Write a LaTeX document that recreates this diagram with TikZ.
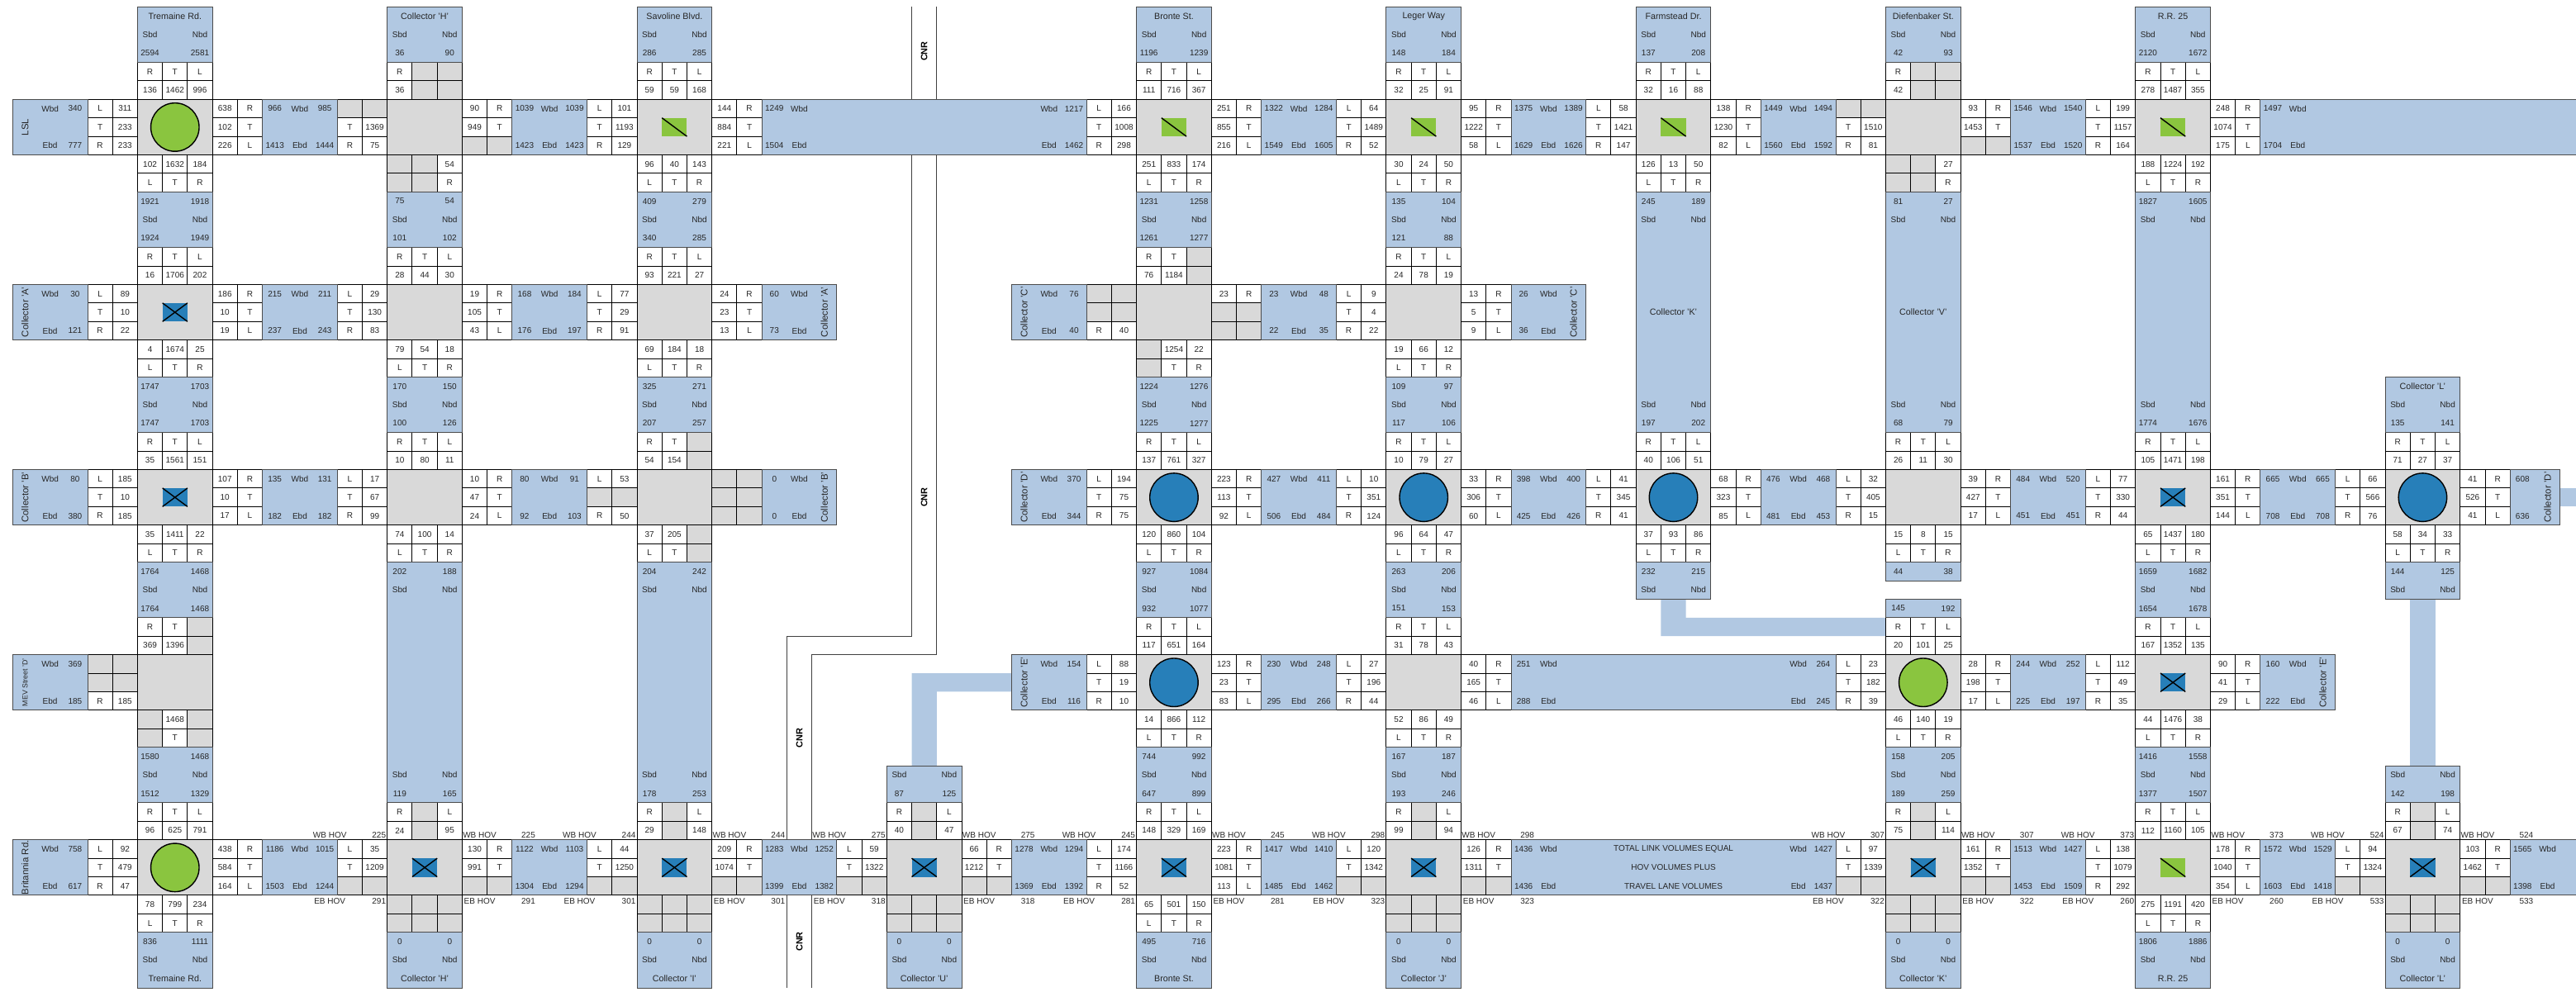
\documentclass[tikz,border=0pt]{standalone}
\usepackage{fontspec}
\usepackage{xcolor}
\usepackage{tikz}
\setmainfont{Liberation Sans}

\definecolor{linkblue}{HTML}{B1C8E2}
\definecolor{gridgrey}{HTML}{D9D9D9}
\definecolor{signalgreen}{HTML}{8AC53F}
\definecolor{signalblue}{HTML}{277FB9}

\newcommand{\cellfont}{\fontsize{5.7}{6}\selectfont}
\newcommand{\titlefont}{\fontsize{6.1}{7}\selectfont}

\tikzset{
    gridcell/.style={draw=black, line width=0.55pt, minimum width=0.6046cm, minimum height=0.4482cm,
        inner sep=0pt, outer sep=0pt, font=\cellfont, text=black!85},
    whitecell/.style={gridcell, fill=white},
    greycell/.style={gridcell, fill=gridgrey},
    volume/.style={inner sep=0pt, font=\cellfont, text=black!85},
    roadname/.style={inner sep=0pt, font=\titlefont, text=black!85},
    sidename/.style={inner sep=0pt, rotate=90, font=\fontsize{6.5}{7}\selectfont, text=black!85},
    blockfill/.style={fill=linkblue, draw=black!70, line width=0.55pt},
    railline/.style={draw=black!75, line width=0.6pt},
    railname/.style={inner sep=0pt, rotate=90, font=\fontsize{6.2}{7}\selectfont\bfseries},
    signalpen/.style={draw=black, line width=0.8pt}
}

\def\nocell{-}

% Một ô: nhãn và giá trị, "-" là ô xám
\newcommand{\tcell}[4]{%
    \pgfmathtruncatemacro\cellcol{#1}%
    \pgfmathtruncatemacro\cellrow{#2}%
    \edef\celltext{#4}%
    \ifx\celltext\nocell
        \node[greycell] (c\cellcol-\cellrow) at (#1+.5,#2+.5) {};
    \else
        \node[whitecell] (c\cellcol-\cellrow) at (#1+.5,#2+.5) {#3};
    \fi}

% Chữ trên nền xanh, đặt giữa một ô lưới
\newcommand{\tx}[3]{%
    \pgfmathtruncatemacro\cellcol{#1}%
    \pgfmathtruncatemacro\cellrow{#2}%
    \node[volume] (t\cellcol-\cellrow) at (#1+.5,#2+.5) {#3};}

% Bốn nhánh của nút giao
\newcommand{\apN}[5]{%
    \tcell{#1}{#2-2}{R}{#3}\tcell{#1+1}{#2-2}{T}{#4}\tcell{#1+2}{#2-2}{L}{#5}%
    \tcell{#1}{#2-1}{#3}{#3}\tcell{#1+1}{#2-1}{#4}{#4}\tcell{#1+2}{#2-1}{#5}{#5}}
\newcommand{\apS}[5]{%
    \tcell{#1}{#2+3}{#3}{#3}\tcell{#1+1}{#2+3}{#4}{#4}\tcell{#1+2}{#2+3}{#5}{#5}%
    \tcell{#1}{#2+4}{L}{#3}\tcell{#1+1}{#2+4}{T}{#4}\tcell{#1+2}{#2+4}{R}{#5}}
\newcommand{\apW}[5]{%
    \tcell{#1-2}{#2}{L}{#3}\tcell{#1-2}{#2+1}{T}{#4}\tcell{#1-2}{#2+2}{R}{#5}%
    \tcell{#1-1}{#2}{#3}{#3}\tcell{#1-1}{#2+1}{#4}{#4}\tcell{#1-1}{#2+2}{#5}{#5}}
\newcommand{\apE}[5]{%
    \tcell{#1+3}{#2}{#3}{#3}\tcell{#1+3}{#2+1}{#4}{#4}\tcell{#1+3}{#2+2}{#5}{#5}%
    \tcell{#1+4}{#2}{R}{#3}\tcell{#1+4}{#2+1}{T}{#4}\tcell{#1+4}{#2+2}{L}{#5}}

% Nút giao: 0 trống, 1 tròn xanh lá, 2 tròn xanh dương, 3 vuông chữ X, 4 vuông gạch chéo
\newcommand{\xsec}[3]{%
    \draw[fill=gridgrey, line width=0.55pt] (#1,#2) rectangle ++(3,3);
    \ifcase#3
    \or \draw[signalpen, fill=signalgreen] (#1+1.5,#2+1.5) circle[radius=0.585cm];
    \or \draw[signalpen, fill=signalblue] (#1+1.5,#2+1.5) circle[radius=0.585cm];
    \or \fill[signalblue] (#1+1,#2+1) rectangle ++(1,1);
        \draw[signalpen] (#1+1,#2+1) -- ++(1,1);
        \draw[signalpen] (#1+2,#2+1) -- ++(-1,1);
    \or \fill[signalgreen] (#1+1,#2+1) rectangle ++(1,1);
        \draw[signalpen] (#1+1,#2+1) -- ++(1,1);
    \fi}

% Các đoạn nối ngang
\newcommand{\linkH}[6]{%
    \draw[blockfill] (#1,#2) rectangle ++(3,3);
    \tx{#1}{#2}{#3}\tx{#1+1}{#2}{Wbd}\tx{#1+2}{#2}{#4}%
    \tx{#1}{#2+2}{#5}\tx{#1+1}{#2+2}{Ebd}\tx{#1+2}{#2+2}{#6}}
\newcommand{\linkHwide}[7]{%
    \draw[blockfill] (#1,#3) rectangle (#2,#3+3);
    \tx{#1}{#3}{#4}\tx{#1+1}{#3}{Wbd}\tx{#2-2}{#3}{Wbd}\tx{#2-1}{#3}{#5}%
    \tx{#1}{#3+2}{#6}\tx{#1+1}{#3+2}{Ebd}\tx{#2-2}{#3+2}{Ebd}\tx{#2-1}{#3+2}{#7}}
\newcommand{\linkHopen}[4]{%
    \draw[blockfill] (#1,#2) rectangle (104,#2+3);
    \tx{#1}{#2}{#3}\tx{#1+1}{#2}{Wbd}\tx{#1}{#2+2}{#4}\tx{#1+1}{#2+2}{Ebd}}
\newcommand{\blockL}[5]{%
    \draw[blockfill] (#1,#2) rectangle ++(3,3);
    \node[sidename] (s#1-#2) at (#1+.5,#2+1.5) {#3};
    \tx{#1+1}{#2}{Wbd}\tx{#1+2}{#2}{#4}\tx{#1+1}{#2+2}{Ebd}\tx{#1+2}{#2+2}{#5}}
\newcommand{\blockR}[5]{%
    \draw[blockfill] (#1,#2) rectangle ++(3,3);
    \node[sidename] (s#1-#2) at (#1+2.5,#2+1.5) {#3};
    \tx{#1}{#2}{#4}\tx{#1+1}{#2}{Wbd}\tx{#1}{#2+2}{#5}\tx{#1+1}{#2+2}{Ebd}}

% Các đoạn nối dọc
\newcommand{\linkV}[6]{%
    \draw[blockfill] (#1,#2) rectangle ++(3,3);
    \tx{#1}{#2}{#3}\tx{#1+2}{#2}{#4}\tx{#1}{#2+1}{Sbd}\tx{#1+2}{#2+1}{Nbd}%
    \tx{#1}{#2+2}{#5}\tx{#1+2}{#2+2}{#6}}
\newcommand{\linkVlong}[7]{%
    \draw[blockfill] (#1,#2) rectangle (#1+3,#3);
    \tx{#1}{#2}{#4}\tx{#1+2}{#2}{#5}\tx{#1}{#2+1}{Sbd}\tx{#1+2}{#2+1}{Nbd}%
    \tx{#1}{#3-2}{Sbd}\tx{#1+2}{#3-2}{Nbd}\tx{#1}{#3-1}{#6}\tx{#1+2}{#3-1}{#7}}
\newcommand{\roadHead}[5]{%
    \draw[blockfill] (#1,#2) rectangle ++(3,3);
    \node[roadname] (n#1-#2) at (#1+1.5,#2+.5) {#3};
    \tx{#1}{#2+1}{Sbd}\tx{#1+2}{#2+1}{Nbd}\tx{#1}{#2+2}{#4}\tx{#1+2}{#2+2}{#5}}
\newcommand{\roadFoot}[5]{%
    \draw[blockfill] (#1,#2) rectangle ++(3,3);
    \tx{#1}{#2}{#3}\tx{#1+2}{#2}{#4}\tx{#1}{#2+1}{Sbd}\tx{#1+2}{#2+1}{Nbd}%
    \node[roadname] (n#1-#2) at (#1+1.5,#2+2.5) {#5};}
\newcommand{\stubTop}[4]{%
    \draw[blockfill] (#1,#2) rectangle ++(3,2);
    \tx{#1}{#2}{#3}\tx{#1+2}{#2}{#4}\tx{#1}{#2+1}{Sbd}\tx{#1+2}{#2+1}{Nbd}}
\newcommand{\stubEnd}[4]{%
    \draw[blockfill] (#1,#2) rectangle ++(3,2);
    \tx{#1}{#2}{Sbd}\tx{#1+2}{#2}{Nbd}\tx{#1}{#2+1}{#3}\tx{#1+2}{#2+1}{#4}}
\newcommand{\stubOne}[4]{%
    \draw[blockfill] (#1,#2) rectangle ++(3,1);
    \tx{#1}{#2}{#3}\tx{#1+2}{#2}{#4}}

\begin{document}
\begin{tikzpicture}[x=0.6046cm, y=-0.4482cm]

    \useasboundingbox (-0.506,-0.370) rectangle (102.64,53.22);

    % Dải nối màu xanh không có viền
    \fill[linkblue] (36,41) |- (40,36) -- (40,37) -| (37,41) -- cycle;
    \fill[linkblue] (66,32) |- (75,34) -- (75,33) -| (67,32) -- cycle;
    \fill[linkblue] (96,32) rectangle (97,41);
    \fill[linkblue] (102,26) rectangle (104,27);

    % Đường sắt
    \draw[railline] (36,0) -- (36,34) -- (31,34) -- (31,53);
    \draw[railline] (37,0) -- (37,35) -- (32,35) -- (32,53);
    \node[railname] (rail1) at (36.5,2.4) {CNR};
    \node[railname] (rail2) at (36.5,26.5) {CNR};
    \node[railname] (rail3) at (31.5,39.5) {CNR};
    \node[railname] (rail4) at (31.5,50.5) {CNR};

    % Nút giao
    \foreach \col/\row/\mk in {5/5/1, 15/5/0, 25/5/4, 45/5/4, 55/5/4, 65/5/4, 75/5/0, 85/5/4,
        5/15/3, 15/15/0, 25/15/0, 45/15/0, 55/15/0,
        5/25/3, 15/25/0, 25/25/0, 45/25/2, 55/25/2, 65/25/2, 75/25/0, 85/25/3, 95/25/2,
        5/35/0, 45/35/2, 55/35/0, 75/35/1, 85/35/3,
        5/45/1, 15/45/3, 25/45/3, 35/45/3, 45/45/3, 55/45/3, 75/45/3, 85/45/4, 95/45/3}
        {\xsec{\col}{\row}{\mk}}

    % Nhánh phía bắc
    \foreach \col/\row/\va/\vb/\vc in {5/5/136/1462/996, 15/5/36/-/-, 25/5/59/59/168, 45/5/111/716/367,
        55/5/32/25/91, 65/5/32/16/88, 75/5/42/-/-, 85/5/278/1487/355,
        5/15/16/1706/202, 15/15/28/44/30, 25/15/93/221/27, 45/15/76/1184/-, 55/15/24/78/19,
        5/25/35/1561/151, 15/25/10/80/11, 25/25/54/154/-, 45/25/137/761/327, 55/25/10/79/27,
        65/25/40/106/51, 75/25/26/11/30, 85/25/105/1471/198, 95/25/71/27/37,
        5/35/369/1396/-, 45/35/117/651/164, 55/35/31/78/43, 75/35/20/101/25, 85/35/167/1352/135,
        5/45/96/625/791, 15/45/24/-/95, 25/45/29/-/148, 35/45/40/-/47, 45/45/148/329/169,
        55/45/99/-/94, 75/45/75/-/114, 85/45/112/1160/105, 95/45/67/-/74}
        {\apN{\col}{\row}{\va}{\vb}{\vc}}

    % Nhánh phía nam
    \foreach \col/\row/\va/\vb/\vc in {5/5/102/1632/184, 15/5/-/-/54, 25/5/96/40/143, 45/5/251/833/174,
        55/5/30/24/50, 65/5/126/13/50, 75/5/-/-/27, 85/5/188/1224/192,
        5/15/4/1674/25, 15/15/79/54/18, 25/15/69/184/18, 45/15/-/1254/22, 55/15/19/66/12,
        5/25/35/1411/22, 15/25/74/100/14, 25/25/37/205/-, 45/25/120/860/104, 55/25/96/64/47,
        65/25/37/93/86, 75/25/15/8/15, 85/25/65/1437/180, 95/25/58/34/33,
        5/35/-/1468/-, 45/35/14/866/112, 55/35/52/86/49, 75/35/46/140/19, 85/35/44/1476/38,
        5/45/78/799/234, 15/45/-/-/-, 25/45/-/-/-, 35/45/-/-/-, 45/45/65/501/150,
        55/45/-/-/-, 75/45/-/-/-, 85/45/275/1191/420, 95/45/-/-/-}
        {\apS{\col}{\row}{\va}{\vb}{\vc}}

    % Nhánh phía tây
    \foreach \col/\row/\va/\vb/\vc in {5/5/311/233/233, 15/5/-/1369/75, 25/5/101/1193/129, 45/5/166/1008/298,
        55/5/64/1489/52, 65/5/58/1421/147, 75/5/-/1510/81, 85/5/199/1157/164,
        5/15/89/10/22, 15/15/29/130/83, 25/15/77/29/91, 45/15/-/-/40, 55/15/9/4/22,
        5/25/185/10/185, 15/25/17/67/99, 25/25/53/-/50, 45/25/194/75/75, 55/25/10/351/124,
        65/25/41/345/41, 75/25/32/405/15, 85/25/77/330/44, 95/25/66/566/76,
        5/35/-/-/185, 45/35/88/19/10, 55/35/27/196/44, 75/35/23/182/39, 85/35/112/49/35,
        5/45/92/479/47, 15/45/35/1209/-, 25/45/44/1250/-, 35/45/59/1322/-, 45/45/174/1166/52,
        55/45/120/1342/-, 75/45/97/1339/-, 85/45/138/1079/292, 95/45/94/1324/-}
        {\apW{\col}{\row}{\va}{\vb}{\vc}}

    % Nhánh phía đông
    \foreach \col/\row/\va/\vb/\vc in {5/5/638/102/226, 15/5/90/949/-, 25/5/144/884/221, 45/5/251/855/216,
        55/5/95/1222/58, 65/5/138/1230/82, 75/5/93/1453/-, 85/5/248/1074/175,
        5/15/186/10/19, 15/15/19/105/43, 25/15/24/23/13, 45/15/23/-/-, 55/15/13/5/9,
        5/25/107/10/17, 15/25/10/47/24, 25/25/-/-/-, 45/25/223/113/92, 55/25/33/306/60,
        65/25/68/323/85, 75/25/39/427/17, 85/25/161/351/144, 95/25/41/526/41,
        45/35/123/23/83, 55/35/40/165/46, 75/35/28/198/17, 85/35/90/41/29,
        5/45/438/584/164, 15/45/130/991/-, 25/45/209/1074/-, 35/45/66/1212/-, 45/45/223/1081/113,
        55/45/126/1311/-, 75/45/161/1352/-, 85/45/178/1040/354, 95/45/103/1462/-}
        {\apE{\col}{\row}{\va}{\vb}{\vc}}

    % Đoạn nối ngang giữa hai nút giao
    \foreach \col/\row/\va/\vb/\vc/\vd in {10/5/966/985/1413/1444, 20/5/1039/1039/1423/1423,
        50/5/1322/1284/1549/1605, 60/5/1375/1389/1629/1626, 70/5/1449/1494/1560/1592, 80/5/1546/1540/1537/1520,
        10/15/215/211/237/243, 20/15/168/184/176/197, 50/15/23/48/22/35,
        10/25/135/131/182/182, 20/25/80/91/92/103, 50/25/427/411/506/484, 60/25/398/400/425/426,
        70/25/476/468/481/453, 80/25/484/520/451/451, 90/25/665/665/708/708,
        50/35/230/248/295/266, 80/35/244/252/225/197,
        10/45/1186/1015/1503/1244, 20/45/1122/1103/1304/1294, 30/45/1283/1252/1399/1382,
        40/45/1278/1294/1369/1392, 50/45/1417/1410/1485/1462, 80/45/1513/1427/1453/1509, 90/45/1572/1529/1603/1418}
        {\linkH{\col}{\row}{\va}{\vb}{\vc}{\vd}}

    \linkHwide{30}{43}{5}{1249}{1217}{1504}{1462}
    \linkHwide{60}{73}{35}{251}{264}{288}{245}
    \linkHwide{60}{73}{45}{1436}{1427}{1436}{1437}
    \linkHopen{90}{5}{1497}{1704}
    \linkHopen{100}{45}{1565}{1398}

    \node[volume] (total1) at (66.5,45.5) {TOTAL LINK VOLUMES EQUAL};
    \node[volume] (total2) at (66.5,46.5) {HOV VOLUMES PLUS};
    \node[volume] (total3) at (66.5,47.5) {TRAVEL LANE VOLUMES};

    % Khối cuối có tên đường quay dọc
    \blockL{0}{5}{LSL}{340}{777}
    \blockL{0}{15}{Collector 'A'}{30}{121}
    \blockL{0}{25}{Collector 'B'}{80}{380}
    \blockL{0}{45}{Britannia Rd.}{758}{617}
    \blockL{40}{15}{Collector 'C'}{76}{40}
    \blockL{40}{25}{Collector 'D'}{370}{344}
    \blockL{40}{35}{Collector 'E'}{154}{116}
    \blockR{30}{15}{Collector 'A'}{60}{73}
    \blockR{30}{25}{Collector 'B'}{0}{0}
    \blockR{60}{15}{Collector 'C'}{26}{36}
    \blockR{90}{35}{Collector 'E'}{160}{222}

    \draw[blockfill] (0,35) rectangle ++(3,3);
    \node[sidename, font=\fontsize{5}{6}\selectfont] (mev) at (0.5,36.5) {MEV Street 'D'};
    \tx{1}{35}{Wbd}\tx{2}{35}{369}\tx{1}{37}{Ebd}\tx{2}{37}{185}

    \draw[blockfill] (100,25) rectangle ++(2,3);
    \node[sidename] (collD) at (101.5,26.5) {Collector 'D'};
    \tx{100}{25}{608}\tx{100}{27}{636}

    % Đoạn nối dọc
    \foreach \col/\row/\va/\vb/\vc/\vd in {5/10/1921/1918/1924/1949, 15/10/75/54/101/102, 25/10/409/279/340/285,
        45/10/1231/1258/1261/1277, 55/10/135/104/121/88,
        5/20/1747/1703/1747/1703, 15/20/170/150/100/126, 25/20/325/271/207/257,
        45/20/1224/1276/1225/1277, 55/20/109/97/117/106,
        5/30/1764/1468/1764/1468, 45/30/927/1084/932/1077, 55/30/263/206/151/153, 85/30/1659/1682/1654/1678,
        5/40/1580/1468/1512/1329, 45/40/744/992/647/899, 55/40/167/187/193/246,
        75/40/158/205/189/259, 85/40/1416/1558/1377/1507}
        {\linkV{\col}{\row}{\va}{\vb}{\vc}{\vd}}

    \linkVlong{15}{30}{43}{202}{188}{119}{165}
    \linkVlong{25}{30}{43}{204}{242}{178}{253}
    \linkVlong{65}{10}{23}{245}{189}{197}{202}
    \linkVlong{75}{10}{23}{81}{27}{68}{79}
    \linkVlong{85}{10}{23}{1827}{1605}{1774}{1676}
    \node[roadname] (collK) at (66.5,16.5) {Collector 'K'};
    \node[roadname] (collV) at (76.5,16.5) {Collector 'V'};

    \stubTop{65}{30}{232}{215}
    \stubTop{95}{30}{144}{125}
    \stubOne{75}{30}{44}{38}
    \stubOne{75}{32}{145}{192}
    \stubEnd{35}{41}{87}{125}
    \stubEnd{95}{41}{142}{198}

    % Tên đường phía trên
    \roadHead{5}{0}{Tremaine Rd.}{2594}{2581}
    \roadHead{15}{0}{Collector 'H'}{36}{90}
    \roadHead{25}{0}{Savoline Blvd.}{286}{285}
    \roadHead{45}{0}{Bronte St.}{1196}{1239}
    \roadHead{55}{0}{Leger Way}{148}{184}
    \roadHead{65}{0}{Farmstead Dr.}{137}{208}
    \roadHead{75}{0}{Diefenbaker St.}{42}{93}
    \roadHead{85}{0}{R.R. 25}{2120}{1672}
    \roadHead{95}{20}{Collector 'L'}{135}{141}

    % Tên đường phía dưới
    \roadFoot{5}{50}{836}{1111}{Tremaine Rd.}
    \roadFoot{15}{50}{0}{0}{Collector 'H'}
    \roadFoot{25}{50}{0}{0}{Collector 'I'}
    \roadFoot{35}{50}{0}{0}{Collector 'U'}
    \roadFoot{45}{50}{495}{716}{Bronte St.}
    \roadFoot{55}{50}{0}{0}{Collector 'J'}
    \roadFoot{75}{50}{0}{0}{Collector 'K'}
    \roadFoot{85}{50}{1806}{1886}{R.R. 25}
    \roadFoot{95}{50}{0}{0}{Collector 'L'}

    % Nhãn làn HOV hai bên nút giao
    \foreach \col/\va/\vb in {15/225/291, 25/244/301, 35/275/318, 45/245/281, 55/298/323, 75/307/322, 85/373/260, 95/524/533} {
        \node[volume] (wbl\col) at (\col-2.3,44.75) {WB HOV};
        \node[volume] (wbv\col) at (\col-0.33,44.75) {\va};
        \node[volume] (ebl\col) at (\col-2.3,48.3) {EB HOV};
        \node[volume] (ebv\col) at (\col-0.33,48.3) {\vb};
    }
    \foreach \col/\va/\vb in {15/225/291, 25/244/301, 35/275/318, 45/245/281, 55/298/323, 75/307/322, 85/373/260, 95/524/533} {
        \node[volume] (wbr\col) at (\col+3.7,44.75) {WB HOV};
        \node[volume] (wbn\col) at (\col+5.65,44.75) {\va};
        \node[volume] (ebr\col) at (\col+3.7,48.3) {EB HOV};
        \node[volume] (ebn\col) at (\col+5.65,48.3) {\vb};
    }

\end{tikzpicture}
\end{document}
